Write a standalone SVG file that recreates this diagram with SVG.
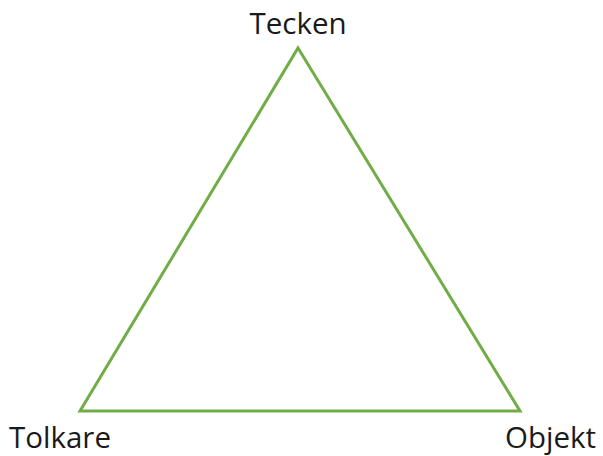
<svg xmlns="http://www.w3.org/2000/svg" width="603" height="456" viewBox="0 0 603 456">
<style>
.lbl{font-family:"Open Sans","Liberation Sans",sans-serif;font-size:29.5px;fill:#1a1a1a}
.edge{fill:none;stroke:#70AD47;stroke-width:3;stroke-linejoin:miter}
</style>
<rect width="603" height="456" fill="#ffffff"/>
<g id="connectors">
<polygon class="edge" points="298,48 520,411 80,411"/>
</g>
<g id="tecken"><text class="lbl" x="298" y="34" text-anchor="middle">Tecken</text></g>
<g id="tolkare"><text class="lbl" x="9" y="448">Tolkare</text></g>
<g id="objekt"><text class="lbl" x="505" y="448">Objekt</text></g>
</svg>
